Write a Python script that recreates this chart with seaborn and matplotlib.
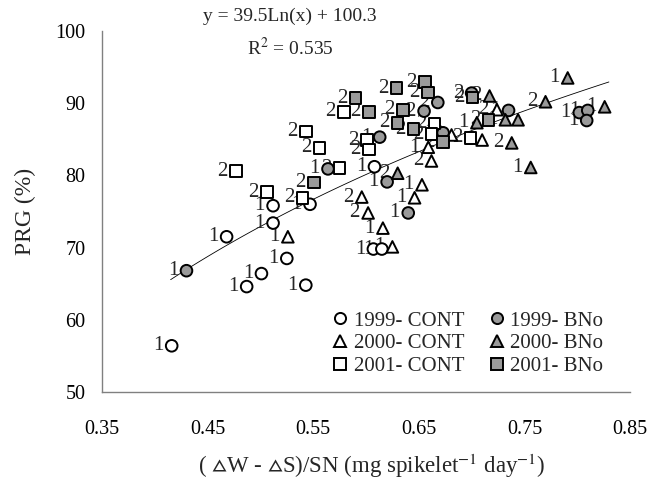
import numpy as np
import pandas as pd
import matplotlib
matplotlib.use("Agg")
import matplotlib.pyplot as plt
from matplotlib.lines import Line2D
import seaborn as sns

# ---------------- data ----------------
c99_x = [0.416, 0.468, 0.487, 0.501, 0.512, 0.512, 0.525, 0.543, 0.547, 0.608, 0.607, 0.615]
c99_y = [56.4, 71.5, 64.6, 66.4, 75.8, 73.4, 68.5, 64.8, 76.0, 81.2, 69.8, 69.8]
c99_lab = ["1"] * 12

b99_x = [0.430, 0.564, 0.613, 0.620, 0.640, 0.655, 0.668, 0.673, 0.700, 0.735, 0.802, 0.810, 0.809]
b99_y = [66.8, 80.9, 85.3, 79.1, 74.8, 88.9, 90.1, 85.9, 91.4, 89.0, 88.7, 89.0, 87.6]
b99_lab = ["1", "1", "1", "1", "1", "2", "2", "1", "2", "1", "1", "1", "1"]

c00_x = [0.526, 0.596, 0.602, 0.616, 0.625, 0.646, 0.653, 0.659, 0.662, 0.681, 0.710, 0.724]
c00_y = [71.5, 77.0, 74.8, 72.7, 70.1, 76.9, 78.7, 83.9, 82.0, 85.6, 84.9, 89.1]
c00_lab = ["1", "2", "2", "1", "1", "1", "1", "1", "2", "2", "1", "2"]

b00_x = [0.630, 0.705, 0.717, 0.732, 0.744, 0.738, 0.756, 0.770, 0.791, 0.826]
b00_y = [80.3, 87.3, 91.0, 87.7, 87.7, 84.5, 81.1, 90.2, 93.5, 89.5]
b00_lab = ["2", "1", "2", "1", "2", "2", "1", "2", "1", "1"]

c01_x = [0.477, 0.506, 0.540, 0.543, 0.556, 0.575, 0.579, 0.601, 0.603, 0.665, 0.662, 0.699]
c01_y = [80.6, 77.7, 76.9, 86.1, 83.8, 81.0, 88.8, 84.9, 83.6, 87.2, 85.7, 85.2]
c01_lab = ["2"] * 12

b01_x = [0.551, 0.590, 0.603, 0.629, 0.635, 0.630, 0.645, 0.656, 0.659, 0.673, 0.701, 0.716]
b01_y = [79.0, 90.7, 88.8, 92.1, 89.1, 87.3, 86.4, 92.9, 91.5, 84.6, 90.8, 87.7]
b01_lab = ["2"] * 12

group_names = ["1999- CONT", "1999- BNo", "2000- CONT", "2000- BNo", "2001- CONT", "2001- BNo"]
fit_a, fit_b = 39.5, 100.3
fit_range = [0.415, 0.83]
eq_text = "y = 39.5Ln(x) + 100.3"
r2_text = "R$^2$ = 0.535"
x_ticks = [0.35, 0.45, 0.55, 0.65, 0.75, 0.85]
y_ticks = [50, 60, 70, 80, 90, 100]

# ---------------- build table ----------------
series = [(c99_x, c99_y, c99_lab), (b99_x, b99_y, b99_lab),
          (c00_x, c00_y, c00_lab), (b00_x, b00_y, b00_lab),
          (c01_x, c01_y, c01_lab), (b01_x, b01_y, b01_lab)]
frames = []
for name, (xs, ys, labs) in zip(group_names, series):
    frames.append(pd.DataFrame({"x": xs, "y": ys, "lab": labs, "group": name}))
df = pd.concat(frames, ignore_index=True)

GRAY = "#9a9a9a"
markers = {"1999- CONT": "o", "1999- BNo": "o", "2000- CONT": "^",
           "2000- BNo": "^", "2001- CONT": "s", "2001- BNo": "s"}
faces = {"1999- CONT": "white", "1999- BNo": GRAY, "2000- CONT": "white",
         "2000- BNo": GRAY, "2001- CONT": "white", "2001- BNo": GRAY}

sns.set_theme(style="white")
plt.rcParams["font.family"] = ["Liberation Serif", "DejaVu Serif"]
plt.rcParams["mathtext.fontset"] = "stix"

W, H = 656, 487
fig = plt.figure(figsize=(W / 100, H / 100), dpi=100)
L, R, T, B = 102, 630, 31, 392
ax = fig.add_axes([L / W, 1 - B / H, (R - L) / W, (B - T) / H])

# trend line
fx = np.linspace(fit_range[0], fit_range[1], 100)
fy = fit_a * np.log(fx) + fit_b
sns.lineplot(x=fx, y=fy, ax=ax, color="black", linewidth=0.6, zorder=1)

sns.scatterplot(data=df, x="x", y="y", hue="group", style="group",
                markers=markers, palette=faces, edgecolor="black",
                linewidth=1.4, s=70, legend=False, ax=ax, zorder=3)

for _, r in df.iterrows():
    ax.annotate(r["lab"], (r["x"], r["y"]), xytext=(-6, 0),
                textcoords="offset points", ha="right", va="center",
                fontsize=15, zorder=2)

ax.set_xlim(0.35, 0.85)
ax.set_ylim(50, 100)
ax.set_xticks(x_ticks)
ax.set_xticklabels([f"{v:.2f}" for v in x_ticks])
ax.set_yticks(y_ticks)
ax.set_yticklabels([str(v) for v in y_ticks])
for s in ["top", "right"]:
    ax.spines[s].set_visible(False)
for s in ["left", "bottom"]:
    ax.spines[s].set_color("#808080")
    ax.spines[s].set_linewidth(1.0)
ax.tick_params(axis="both", direction="in", length=4, width=1, color="#808080",
               labelsize=14.5, labelcolor="black")
ax.tick_params(axis="y", pad=12)
ax.tick_params(axis="x", pad=20)

ax.set_xlabel("( $\\vartriangle$W - $\\vartriangle$S)/SN (mg spikelet$^{-1}$ day$^{-1}$)", fontsize=16.5)
ax.set_ylabel("PRG (%)", fontsize=17)
ax.xaxis.label.set_va("center")
ax.yaxis.label.set_va("center")
ax.xaxis.set_label_coords((372 - L) / (R - L), (B - 466) / (B - T))
ax.yaxis.set_label_coords((25 - L) / (R - L), 0.5)

ax.text((290 - L) / (R - L), (B - 16) / (B - T), eq_text, transform=ax.transAxes,
        ha="center", va="center", fontsize=14, clip_on=False)
ax.text((290 - L) / (R - L), (B - 48) / (B - T), r2_text, transform=ax.transAxes,
        ha="center", va="center", fontsize=14, clip_on=False)

order = ["1999- CONT", "2000- CONT", "2001- CONT", "1999- BNo", "2000- BNo", "2001- BNo"]
handles = [Line2D([], [], linestyle="none", marker=markers[g], markersize=8,
                  markerfacecolor=faces[g], markeredgecolor="black",
                  markeredgewidth=1.4) for g in order]
ax.legend(handles, order, ncol=2, loc="upper left", frameon=False,
          bbox_to_anchor=((333 - L) / (R - L), (B - 311) / (B - T)),
          fontsize=15, handlelength=0.7, handletextpad=0.3,
          columnspacing=1.2, labelspacing=0.15, borderpad=0, borderaxespad=0)

fig.savefig("out.png", dpi=100)
